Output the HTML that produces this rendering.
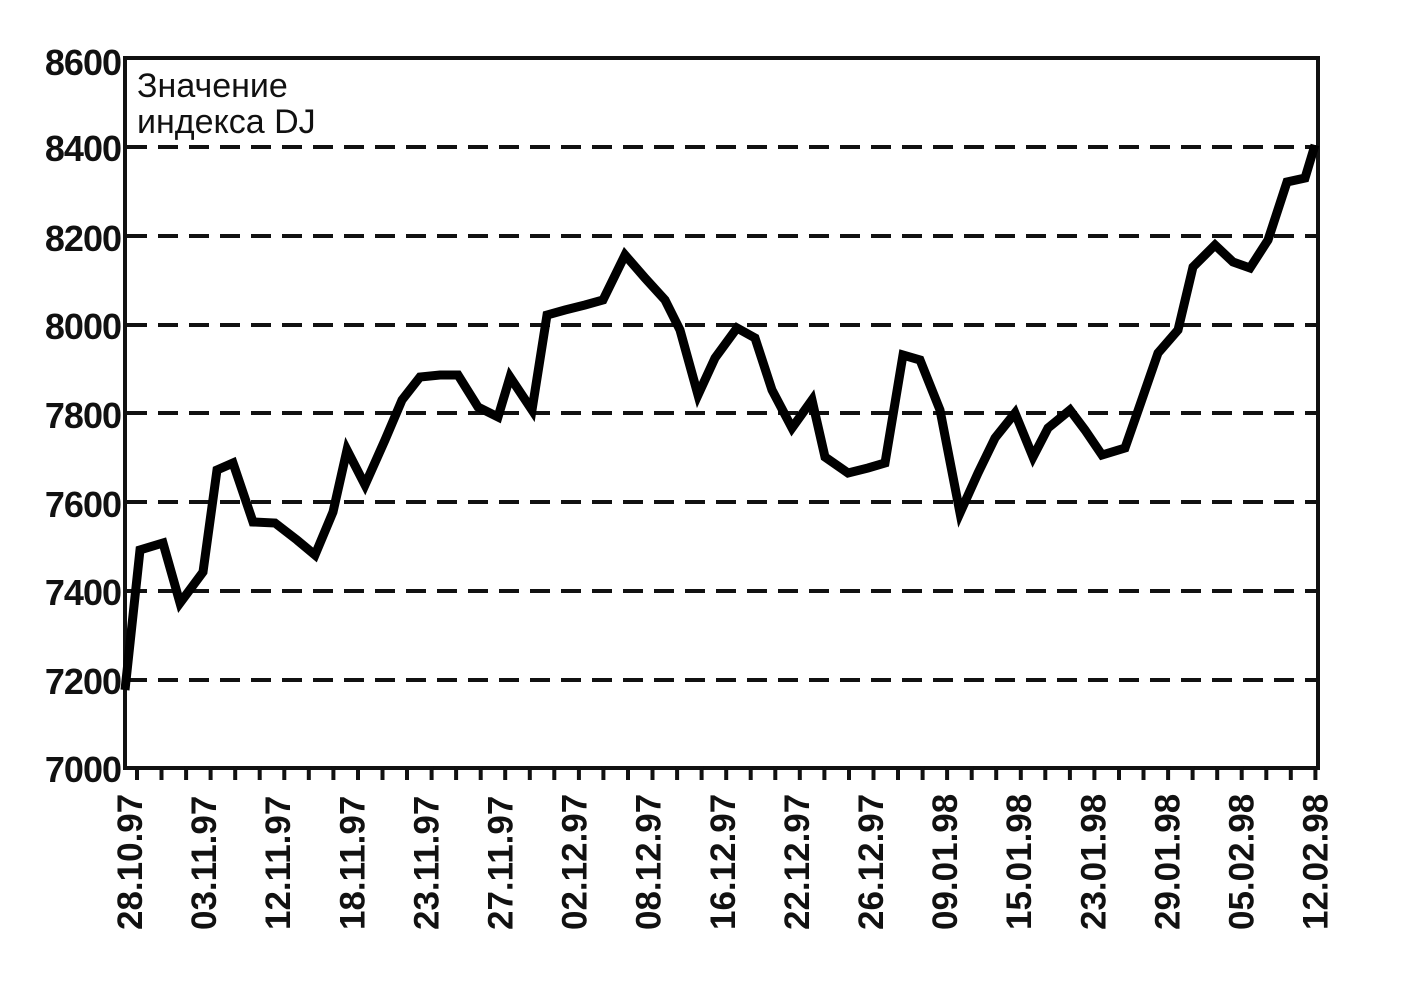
<!DOCTYPE html>
<html><head><meta charset="utf-8"><style>
html,body{margin:0;padding:0;background:#fff;}
svg{display:block}
text{font-family:"Liberation Sans",sans-serif;fill:#111;}
</style></head><body>
<svg width="1410" height="1008" viewBox="0 0 1410 1008" xmlns="http://www.w3.org/2000/svg">
<rect width="1410" height="1008" fill="#fff"/>
<g stroke="#111" stroke-width="4" stroke-dasharray="20 11">
<line x1="127" y1="147" x2="1316" y2="147"/>
<line x1="127" y1="236" x2="1316" y2="236"/>
<line x1="127" y1="325" x2="1316" y2="325"/>
<line x1="127" y1="413" x2="1316" y2="413"/>
<line x1="127" y1="502" x2="1316" y2="502"/>
<line x1="127" y1="591" x2="1316" y2="591"/>
<line x1="127" y1="680" x2="1316" y2="680"/>
</g>
<rect x="125" y="58" width="1193" height="710" fill="none" stroke="#111" stroke-width="4"/>
<path stroke="#111" stroke-width="4" fill="none" d="M137,766v14M161.5,766v14M186.1,766v14M210.6,766v14M235.2,766v14M259.7,766v14M284.3,766v14M308.8,766v14M333.4,766v14M358,766v14M382.5,766v14M407,766v14M431.6,766v14M456.1,766v14M480.7,766v14M505.2,766v14M529.8,766v14M554.3,766v14M578.9,766v14M603.4,766v14M628,766v14M652.5,766v14M677.1,766v14M701.6,766v14M726.2,766v14M750.7,766v14M775.3,766v14M799.8,766v14M824.4,766v14M849,766v14M873.5,766v14M898,766v14M922.6,766v14M947.1,766v14M971.7,766v14M996.2,766v14M1020.8,766v14M1045.3,766v14M1069.9,766v14M1094.4,766v14M1119,766v14M1143.5,766v14M1168.1,766v14M1192.6,766v14M1217.2,766v14M1241.7,766v14M1266.3,766v14M1290.8,766v14M1315.4,766v14"/>
<g font-size="36" font-weight="bold" text-anchor="end" letter-spacing="-1">
<text x="121" y="75">8600</text>
<text x="121" y="161">8400</text>
<text x="121" y="251">8200</text>
<text x="121" y="339">8000</text>
<text x="121" y="428">7800</text>
<text x="121" y="517">7600</text>
<text x="121" y="605">7400</text>
<text x="121" y="694">7200</text>
<text x="121" y="782">7000</text>
</g>
<text x="137" y="97" font-size="34">Значение</text>
<text x="137" y="133" font-size="34">индекса DJ</text>
<polyline fill="none" stroke="#000" stroke-width="9" stroke-linejoin="miter" points="125,690 140,550 163,543 180,603 203,572 217,470 233,463 253,522 275,523 297,540 315,555 333,512 347,450 365,485 385,440 402,400 420,377 440,375 458,375 478,407 498,417 510,377 532,410 547,315 565,310 585,305 603,300 625,255 645,278 665,300 680,330 698,395 715,358 737,328 755,338 772,390 792,428 812,400 825,457 848,473 868,468 885,463 903,355 920,360 940,410 960,513 978,473 995,438 1015,413 1033,457 1048,428 1070,410 1085,430 1102,455 1125,448 1140,405 1158,353 1178,330 1193,267 1215,245 1233,262 1250,268 1268,240 1287,182 1305,178 1315,145"/>
<g font-size="35" font-weight="bold">
<text transform="translate(142,930) rotate(-90)">28.10.97</text>
<text transform="translate(216.1,930) rotate(-90)">03.11.97</text>
<text transform="translate(290.2,930) rotate(-90)">12.11.97</text>
<text transform="translate(364.3,930) rotate(-90)">18.11.97</text>
<text transform="translate(438.4,930) rotate(-90)">23.11.97</text>
<text transform="translate(512.5,930) rotate(-90)">27.11.97</text>
<text transform="translate(586.6,930) rotate(-90)">02.12.97</text>
<text transform="translate(660.7,930) rotate(-90)">08.12.97</text>
<text transform="translate(734.8,930) rotate(-90)">16.12.97</text>
<text transform="translate(808.9,930) rotate(-90)">22.12.97</text>
<text transform="translate(883,930) rotate(-90)">26.12.97</text>
<text transform="translate(957.1,930) rotate(-90)">09.01.98</text>
<text transform="translate(1031.2,930) rotate(-90)">15.01.98</text>
<text transform="translate(1105.3,930) rotate(-90)">23.01.98</text>
<text transform="translate(1179.4,930) rotate(-90)">29.01.98</text>
<text transform="translate(1253.5,930) rotate(-90)">05.02.98</text>
<text transform="translate(1327.6,930) rotate(-90)">12.02.98</text>
</g>
</svg>
</body></html>
